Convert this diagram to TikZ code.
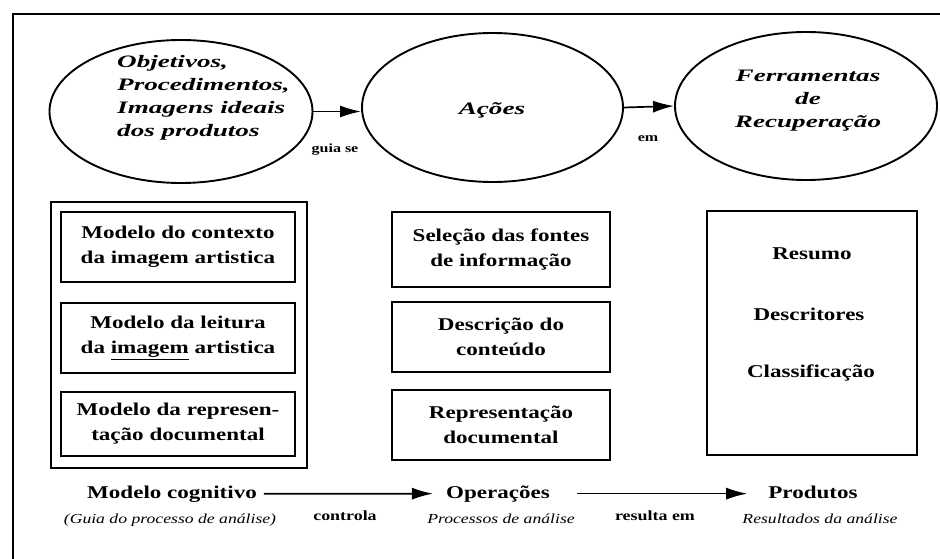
\documentclass[tikz,border=0pt]{standalone}
\usepackage{fontspec}
\setmainfont{Liberation Serif}[FakeStretch=1.28]
\newfontfamily\ovalfont{Liberation Serif}[FakeStretch=1.55]
\usetikzlibrary{shapes.geometric,arrows.meta}
\begin{document}
\begin{tikzpicture}[x=1pt,y=-1pt,
  frame/.style={line width=2pt},
  oval/.style={draw,ellipse,line width=1.9pt,inner sep=0pt},
  ovaltext/.style={inner sep=0pt,font=\ovalfont\fontsize{17.5}{23}\selectfont\bfseries\itshape},
  box/.style={draw,rectangle,line width=1.9pt,inner sep=0pt,align=center,font=\fontsize{18}{25}\selectfont\bfseries},
  boxtext/.style={inner sep=0pt,font=\fontsize{18}{22}\selectfont\bfseries},
  title/.style={inner sep=0pt,font=\fontsize{18}{22}\selectfont\bfseries},
  sub/.style={inner sep=0pt,font=\fontsize{13.8}{17}\selectfont\itshape},
  lbl/.style={inner sep=0pt,font=\fontsize{14}{17}\selectfont\bfseries},
  small/.style={inner sep=0pt,font=\fontsize{12.5}{15}\selectfont\bfseries},
  arr/.style={line width=1.7pt,-{Latex[length=21pt,width=12pt]}}
]
\useasboundingbox (0,0) rectangle (940,559);
\fill[white] (0,0) rectangle (940,559);
% frame (top and left edges)
\coordinate (fbl) at (13,559);
\coordinate (ftl) at (13,14);
\coordinate (ftr) at (940,14);
\draw[frame] (fbl) -- (ftl) -- (ftr);

% ellipses
\node[oval,minimum width=263pt,minimum height=143pt] (e1) at (181,111.5) {};
\node[oval,minimum width=261pt,minimum height=149pt] (e2) at (492.5,107.5) {};
\node[oval,minimum width=262pt,minimum height=148pt] (e3) at (806,106) {};
\node[ovaltext,align=left,anchor=west] (t1) at (117,98) {Objetivos,\\Procedimentos,\\Imagens ideais\\dos produtos};
\node[ovaltext] (t2) at (492,110) {Ações};
\node[ovaltext,align=center] (t3) at (808,101) {Ferramentas\\de\\Recuperação};

\draw[arr] (e1.east) -- (e1.east -| e2.west);
\draw[arr] (e2.east) -- (e3.west);
\node[small,anchor=base] (l1) at (335,153) {guia se};
\node[small,anchor=base] (l2) at (648,142) {em};

% left column
\node[draw,rectangle,line width=1.9pt,minimum width=256pt,minimum height=266pt] (lo) at (179,335) {};
\node[box,minimum width=234pt,minimum height=70pt] (lb1) at (178,247) {Modelo do contexto\\da imagem artistica};
\node[box,minimum width=234pt,minimum height=70pt] (lb2) at (178,338) {Modelo da leitura\\da \underline{imagem} artistica};
\node[box,minimum width=234pt,minimum height=64pt] (lb3) at (178,424) {Modelo da represen-\\tação documental};

% middle column
\node[box,minimum width=218pt,minimum height=75pt] (mb1) at (501,249.5) {Seleção das fontes\\de informação};
\node[box,minimum width=218pt,minimum height=70pt] (mb2) at (501,337) {Descrição do\\conteúdo};
\node[box,minimum width=218pt,minimum height=70pt] (mb3) at (501,425) {Representação\\documental};

% right column
\node[draw,rectangle,line width=1.9pt,minimum width=210pt,minimum height=244pt] (rb) at (812,333) {};
\node[boxtext,anchor=base] (r1) at (812,259) {Resumo};
\node[boxtext,anchor=base] (r2) at (809,320) {Descritores};
\node[boxtext,anchor=base] (r3) at (811,377) {Classificação};

% bottom row
\node[title,anchor=base] (mc) at (172,498) {Modelo cognitivo};
\node[sub,anchor=base] (mcs) at (170,523) {(Guia do processo de análise)};
\node[title,anchor=base] (op) at (498,498) {Operações};
\node[sub,anchor=base] (ops) at (501,523) {Processos de análise};
\node[title,anchor=base] (pr) at (813,498) {Produtos};
\node[sub,anchor=base] (prs) at (820,523) {Resultados da análise};

\draw[arr,shorten <=7pt,shorten >=13pt] (mc.east) -- (op.west);
\draw[arr,shorten <=27pt,shorten >=21pt] (op.east) -- (op.east -| pr.west);
\node[lbl,anchor=base] (c1) at (345,520) {controla};
\node[lbl,anchor=base] (c2) at (655,520) {resulta em};
\end{tikzpicture}
\end{document}
